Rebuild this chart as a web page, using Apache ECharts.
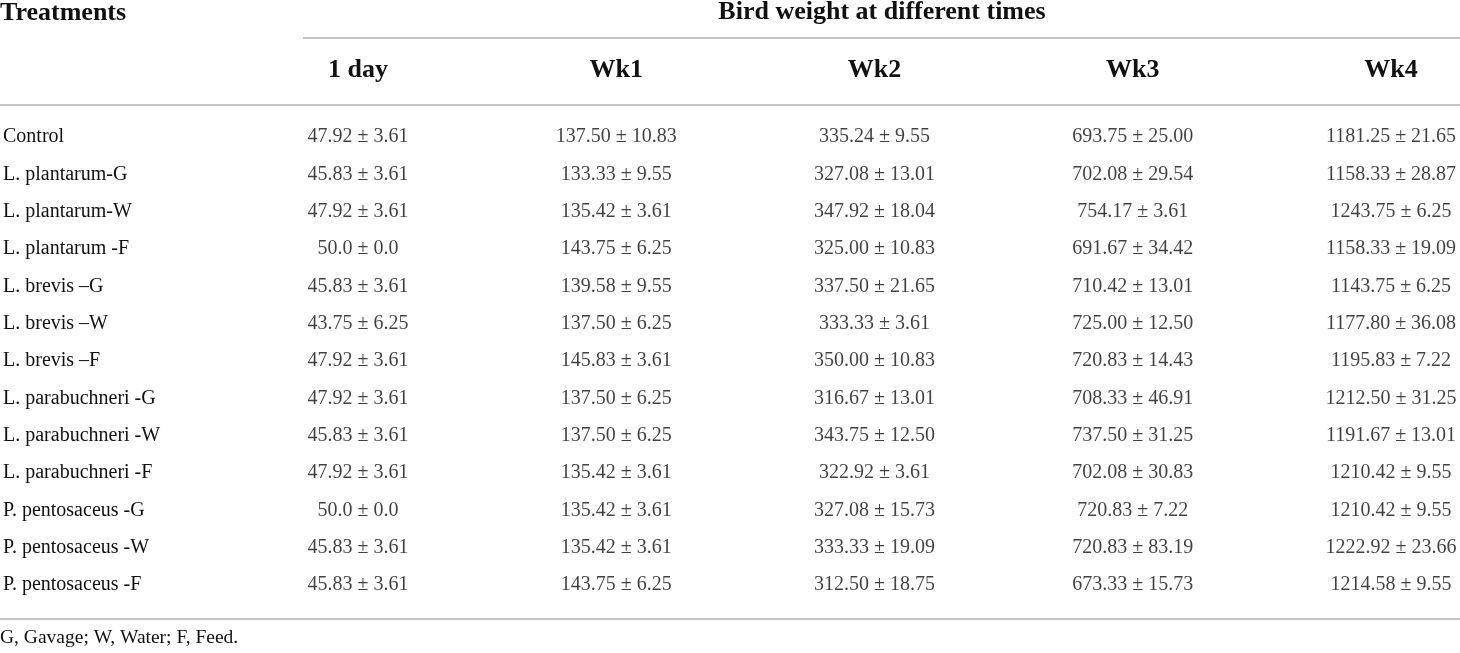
<!DOCTYPE html>
<html>
<head>
<meta charset="utf-8">
<title>Bird weight at different times</title>
<script src="https://cdn.jsdelivr.net/npm/echarts@6/dist/echarts.min.js"></script>
<style>
    html, body { margin: 0; padding: 0; background: #fff; }
    #main { width: 1460px; height: 653px; }
</style>
</head>
<body>
<div id="main"></div>
<script>
// 表格数据
var treatments = ['Control', 'L. plantarum-G', 'L. plantarum-W', 'L. plantarum -F',
    'L. brevis \u2013G', 'L. brevis \u2013W', 'L. brevis \u2013F',
    'L. parabuchneri -G', 'L. parabuchneri -W', 'L. parabuchneri -F',
    'P. pentosaceus -G', 'P. pentosaceus -W', 'P. pentosaceus -F'];
var times = ['1 day', 'Wk1', 'Wk2', 'Wk3', 'Wk4'];

var day1 = ['47.92 ± 3.61', '45.83 ± 3.61', '47.92 ± 3.61', '50.0 ± 0.0', '45.83 ± 3.61',
    '43.75 ± 6.25', '47.92 ± 3.61', '47.92 ± 3.61', '45.83 ± 3.61', '47.92 ± 3.61',
    '50.0 ± 0.0', '45.83 ± 3.61', '45.83 ± 3.61'];
var wk1 = ['137.50 ± 10.83', '133.33 ± 9.55', '135.42 ± 3.61', '143.75 ± 6.25', '139.58 ± 9.55',
    '137.50 ± 6.25', '145.83 ± 3.61', '137.50 ± 6.25', '137.50 ± 6.25', '135.42 ± 3.61',
    '135.42 ± 3.61', '135.42 ± 3.61', '143.75 ± 6.25'];
var wk2 = ['335.24 ± 9.55', '327.08 ± 13.01', '347.92 ± 18.04', '325.00 ± 10.83', '337.50 ± 21.65',
    '333.33 ± 3.61', '350.00 ± 10.83', '316.67 ± 13.01', '343.75 ± 12.50', '322.92 ± 3.61',
    '327.08 ± 15.73', '333.33 ± 19.09', '312.50 ± 18.75'];
var wk3 = ['693.75 ± 25.00', '702.08 ± 29.54', '754.17 ± 3.61', '691.67 ± 34.42', '710.42 ± 13.01',
    '725.00 ± 12.50', '720.83 ± 14.43', '708.33 ± 46.91', '737.50 ± 31.25', '702.08 ± 30.83',
    '720.83 ± 7.22', '720.83 ± 83.19', '673.33 ± 15.73'];
var wk4 = ['1181.25 ± 21.65', '1158.33 ± 28.87', '1243.75 ± 6.25', '1158.33 ± 19.09', '1143.75 ± 6.25',
    '1177.80 ± 36.08', '1195.83 ± 7.22', '1212.50 ± 31.25', '1191.67 ± 13.01', '1210.42 ± 9.55',
    '1210.42 ± 9.55', '1222.92 ± 23.66', '1214.58 ± 9.55'];

var columns = [day1, wk1, wk2, wk3, wk4];
var footnote = 'G, Gavage; W, Water; F, Feed.';

var serif = '"Liberation Serif", "DejaVu Serif", serif';
var textColor = '#111';
var ruleColor = '#c4c4c4';

// 每个单元格: [列, 行, 文本]
var cells = [];
columns.forEach(function (col, c) {
    col.forEach(function (txt, r) {
        cells.push([times[c], treatments[r], txt]);
    });
});

var chart = echarts.init(document.getElementById('main'));

var option = {
    backgroundColor: '#fff',
    animation: false,
    grid: {
        left: 355,
        right: 69,
        top: 137,
        bottom: 68
    },
    xAxis: {
        type: 'category',
        position: 'top',
        data: times,
        boundaryGap: false,
        axisLine: { show: false },
        axisTick: { show: false },
        splitLine: { show: false },
        axisLabel: {
            margin: 67,
            verticalAlign: 'middle',
            color: textColor,
            fontFamily: serif,
            fontWeight: 'bold',
            fontSize: 26
        }
    },
    yAxis: {
        type: 'category',
        data: treatments,
        inverse: true,
        boundaryGap: false,
        axisLine: { show: false },
        axisTick: { show: false },
        splitLine: { show: false },
        axisLabel: {
            margin: 355,
            align: 'left',
            color: textColor,
            fontFamily: serif,
            fontSize: 20
        }
    },
    series: [{
        type: 'scatter',
        data: cells,
        symbolSize: 0,
        itemStyle: { color: '#fff' },
        label: {
            show: true,
            position: 'inside',
            color: textColor,
            textBorderWidth: 0,
            fontFamily: serif,
            fontSize: 20,
            formatter: function (p) { return p.value[2]; }
        }
    }],
    // 表头和横线
    graphic: [
        {
            type: 'text', left: 0, top: 0,
            style: { text: 'Treatments', fill: textColor, font: 'bold 26px ' + serif }
        },
        {
            type: 'text', x: 882, y: 12,
            style: {
                text: 'Bird weight at different times', fill: textColor,
                font: 'bold 26px ' + serif, textAlign: 'center', textVerticalAlign: 'middle'
            }
        },
        {
            type: 'line', shape: { x1: 303, y1: 38, x2: 1460, y2: 38 },
            style: { stroke: ruleColor, lineWidth: 2 }
        },
        {
            type: 'line', shape: { x1: 0, y1: 105, x2: 1460, y2: 105 },
            style: { stroke: ruleColor, lineWidth: 2 }
        },
        {
            type: 'line', shape: { x1: 0, y1: 619, x2: 1460, y2: 619 },
            style: { stroke: ruleColor, lineWidth: 2 }
        },
        {
            type: 'text', x: 0, y: 638,
            style: { text: footnote, fill: textColor, font: '19.5px ' + serif, textVerticalAlign: 'middle' }
        }
    ]
};

chart.setOption(option);
</script>
</body>
</html>
